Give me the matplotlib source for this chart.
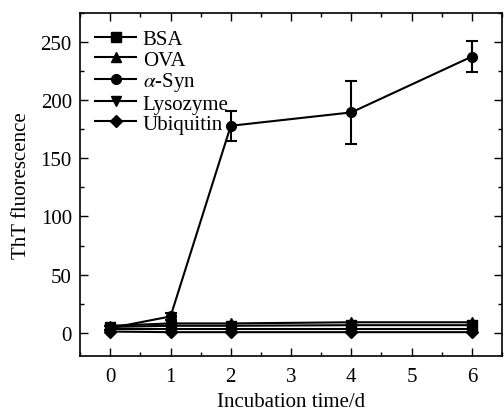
import numpy as np
import matplotlib
matplotlib.use("Agg")
import matplotlib.pyplot as plt
from matplotlib.ticker import MultipleLocator

plt.rcParams['font.family'] = ['Liberation Serif', 'DejaVu Serif']
plt.rcParams['mathtext.fontset'] = 'stix'

# data
days = [0, 1, 2, 4, 6]
bsa = [5, 6, 6, 6.5, 6.5]
ova = [6, 8, 8, 9, 9]
asyn = [4, 14, 178, 189.5, 237.5]
asyn_err = [2, 3, 13, 27, 13]
lyso = [3, 3, 3, 3, 3]
ubi = [1, 0.5, 0.5, 0.5, 0.5]

labels = ['BSA', 'OVA', r'$\alpha$-Syn', 'Lysozyme', 'Ubiquitin']
series = [bsa, ova, asyn, lyso, ubi]
markers = ['s', '^', 'o', 'v', 'D']

fig = plt.figure(figsize=(5.04, 4.14), dpi=100)
ax = fig.add_axes([0.159, 0.1377, 0.837, 0.8285])

for y, m, lab in zip(series, markers, labels):
    ms = 6 if m == 'D' else 7
    ax.plot(days, y, color='black', marker=m, ms=ms, lw=1.5, label=lab)

# error bars for alpha-Syn
ax.errorbar(days, asyn, yerr=asyn_err, fmt='none', ecolor='black',
            capsize=4, elinewidth=1.5, capthick=1.5)

ax.set_xlim(-0.5, 6.5)
ax.set_ylim(-20, 275)
ax.xaxis.set_major_locator(MultipleLocator(1))
ax.xaxis.set_minor_locator(MultipleLocator(0.5))
ax.yaxis.set_major_locator(MultipleLocator(50))
ax.yaxis.set_minor_locator(MultipleLocator(25))
ax.tick_params(which='both', direction='in', top=True, right=True,
               labelsize=15, width=1)
ax.tick_params(which='major', length=6)
ax.tick_params(which='minor', length=3)
ax.tick_params(axis='x', pad=8)
ax.tick_params(axis='y', pad=6)
for s in ax.spines.values():
    s.set_linewidth(1.2)

ax.set_xlabel('Incubation time/d', fontsize=15, labelpad=4)
ax.set_ylabel('ThT fluorescence', fontsize=15, labelpad=7)

leg = ax.legend(loc='upper left', frameon=False, fontsize=15,
                handlelength=2.0, labelspacing=0.03, handletextpad=0.3,
                borderaxespad=0.0, bbox_to_anchor=(0.015, 0.975))

fig.savefig('out.png', dpi=100)
